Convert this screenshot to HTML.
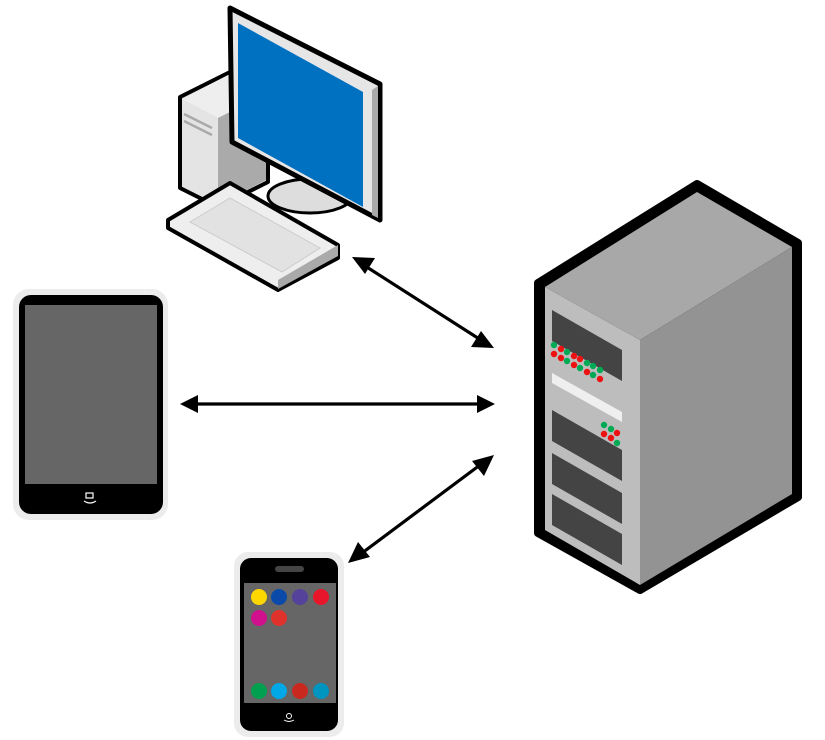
<!DOCTYPE html>
<html><head><meta charset="utf-8"><style>html,body{margin:0;padding:0;background:#fff}svg{display:block}</style></head>
<body>
<svg width="825" height="740" viewBox="0 0 825 740" xmlns="http://www.w3.org/2000/svg">
<!-- arrows -->
<g stroke="#000" stroke-width="3.2" fill="#000">
<line x1="362" y1="264" x2="484" y2="342"/>
<polygon points="352,257 375,258 365,274" stroke="none"/>
<polygon points="494,348 471,347 481,331" stroke="none"/>
<line x1="192" y1="404" x2="483" y2="404"/>
<polygon points="180,404 198,395 198,413" stroke="none"/>
<polygon points="495,404 477,395 477,413" stroke="none"/>
<line x1="484" y1="462" x2="358" y2="556"/>
<polygon points="494,455 484,476 472,461" stroke="none"/>
<polygon points="348,563 358,542 370,557" stroke="none"/>
</g>

<!-- desktop tower -->
<g stroke="#000" stroke-width="4" stroke-linejoin="round">
<polygon points="180,97 230,72 268,92 268,182 218,207 180,188" fill="#ddd"/>
</g>
<polygon points="182,99 230,74 266,94 218,118" fill="#eee"/>
<polygon points="218,118 266,94 266,180 218,205" fill="#aaa"/>
<polygon points="182,99 218,118 218,205 182,186" fill="#e4e4e4"/>
<line x1="184" y1="114" x2="212" y2="128" stroke="#aaa" stroke-width="2.5"/>
<line x1="184" y1="121" x2="212" y2="135" stroke="#aaa" stroke-width="2.5"/>
<!-- stand -->
<ellipse cx="310" cy="196" rx="42" ry="17" fill="#ddd" stroke="#000" stroke-width="3"/>
<!-- monitor -->
<polygon points="230,8 380,84 380,220 232,142" fill="#e6e6e6" stroke="#000" stroke-width="5" stroke-linejoin="round"/>
<polygon points="372,90 378,86 378,218 372,215" fill="#aaa"/>
<polygon points="238,23 363,92 363,207 238,138" fill="#0070c0"/>
<!-- keyboard -->
<polygon points="168,220 230,183 338,245 338,258 278,290 168,228" fill="#eee" stroke="#000" stroke-width="4" stroke-linejoin="round"/>
<polygon points="278,280 338,245 338,256 278,289" fill="#aaa"/>
<polygon points="190,222 230,198 320,248 282,272" fill="#e2e2e2" stroke="#ccc" stroke-width="1"/>

<!-- tablet -->
<rect x="13" y="289" width="155" height="231" rx="16" fill="#ececec"/>
<rect x="19" y="295" width="144" height="219" rx="12" fill="#000"/>
<rect x="25" y="305" width="132" height="179" fill="#666"/>
<rect x="86" y="493" width="7" height="5" fill="none" stroke="#fff" stroke-width="1.2"/>
<path d="M84,501 Q90,505 96,501" fill="none" stroke="#fff" stroke-width="1.2"/>

<!-- phone -->
<rect x="234" y="552" width="110" height="185" rx="14" fill="#ececec"/>
<rect x="240" y="558" width="98" height="173" rx="11" fill="#000"/>
<rect x="275" y="566" width="29" height="6" rx="3" fill="#444"/>
<rect x="244" y="583" width="92" height="120" fill="#666"/>
<circle cx="259" cy="597" r="8" fill="#ffd700"/>
<circle cx="279" cy="597" r="8" fill="#0a4aa8"/>
<circle cx="300" cy="597" r="8" fill="#55429a"/>
<circle cx="321" cy="597" r="8" fill="#e8162a"/>
<circle cx="259" cy="618" r="8" fill="#d0108c"/>
<circle cx="279" cy="618" r="8" fill="#e0322c"/>
<circle cx="259" cy="691" r="8" fill="#00a050"/>
<circle cx="279" cy="691" r="8" fill="#00a8e8"/>
<circle cx="300" cy="691" r="8" fill="#c8281e"/>
<circle cx="321" cy="691" r="8" fill="#0094c0"/>
<circle cx="289" cy="716" r="2.5" fill="none" stroke="#fff" stroke-width="1"/>
<path d="M284,720 Q289,723 294,720" fill="none" stroke="#fff" stroke-width="1"/>

<!-- server -->
<polygon points="538,283 697,184 798,243 798,497 640,590 538,533" fill="#000" stroke="#000" stroke-width="8" stroke-linejoin="round"/>
<polygon points="545,287 697,192 792,247 640,340" fill="#a8a8a8"/>
<polygon points="640,340 792,247 792,494 640,585" fill="#939393"/>
<polygon points="545,287 640,340 640,585 545,530" fill="#bdbdbd"/>
<g fill="#444">
<polygon points="552,310 622,350 622,381 552,341"/>
<polygon points="552,410 622,450 622,481 552,441"/>
<polygon points="552,453 622,493 622,524 552,484"/>
<polygon points="552,494 622,534 622,565 552,525"/>
</g>
<polygon points="552,373 622,412 622,422 552,383" fill="#efefef"/>
<g>
<circle cx="554" cy="345" r="3.2" fill="#0a5"/><circle cx="561" cy="349" r="3.2" fill="#e11"/>
<circle cx="567" cy="352" r="3.2" fill="#0a5"/><circle cx="574" cy="356" r="3.2" fill="#e11"/>
<circle cx="580" cy="359" r="3.2" fill="#e11"/><circle cx="587" cy="363" r="3.2" fill="#0a5"/>
<circle cx="593" cy="366" r="3.2" fill="#0a5"/><circle cx="600" cy="370" r="3.2" fill="#0a5"/>
<circle cx="554" cy="354" r="3.2" fill="#e11"/><circle cx="561" cy="358" r="3.2" fill="#e11"/>
<circle cx="567" cy="361" r="3.2" fill="#0a5"/><circle cx="574" cy="365" r="3.2" fill="#e11"/>
<circle cx="580" cy="368" r="3.2" fill="#0a5"/><circle cx="587" cy="372" r="3.2" fill="#e11"/>
<circle cx="593" cy="375" r="3.2" fill="#0a5"/><circle cx="600" cy="379" r="3.2" fill="#e11"/>
<circle cx="604" cy="425" r="3.2" fill="#0a5"/><circle cx="611" cy="429" r="3.2" fill="#0a5"/>
<circle cx="604" cy="434" r="3.2" fill="#e11"/><circle cx="611" cy="438" r="3.2" fill="#e11"/>
<circle cx="617" cy="433" r="3.2" fill="#e11"/><circle cx="617" cy="443" r="3.2" fill="#0a5"/>
</g>
</svg>
</body></html>
